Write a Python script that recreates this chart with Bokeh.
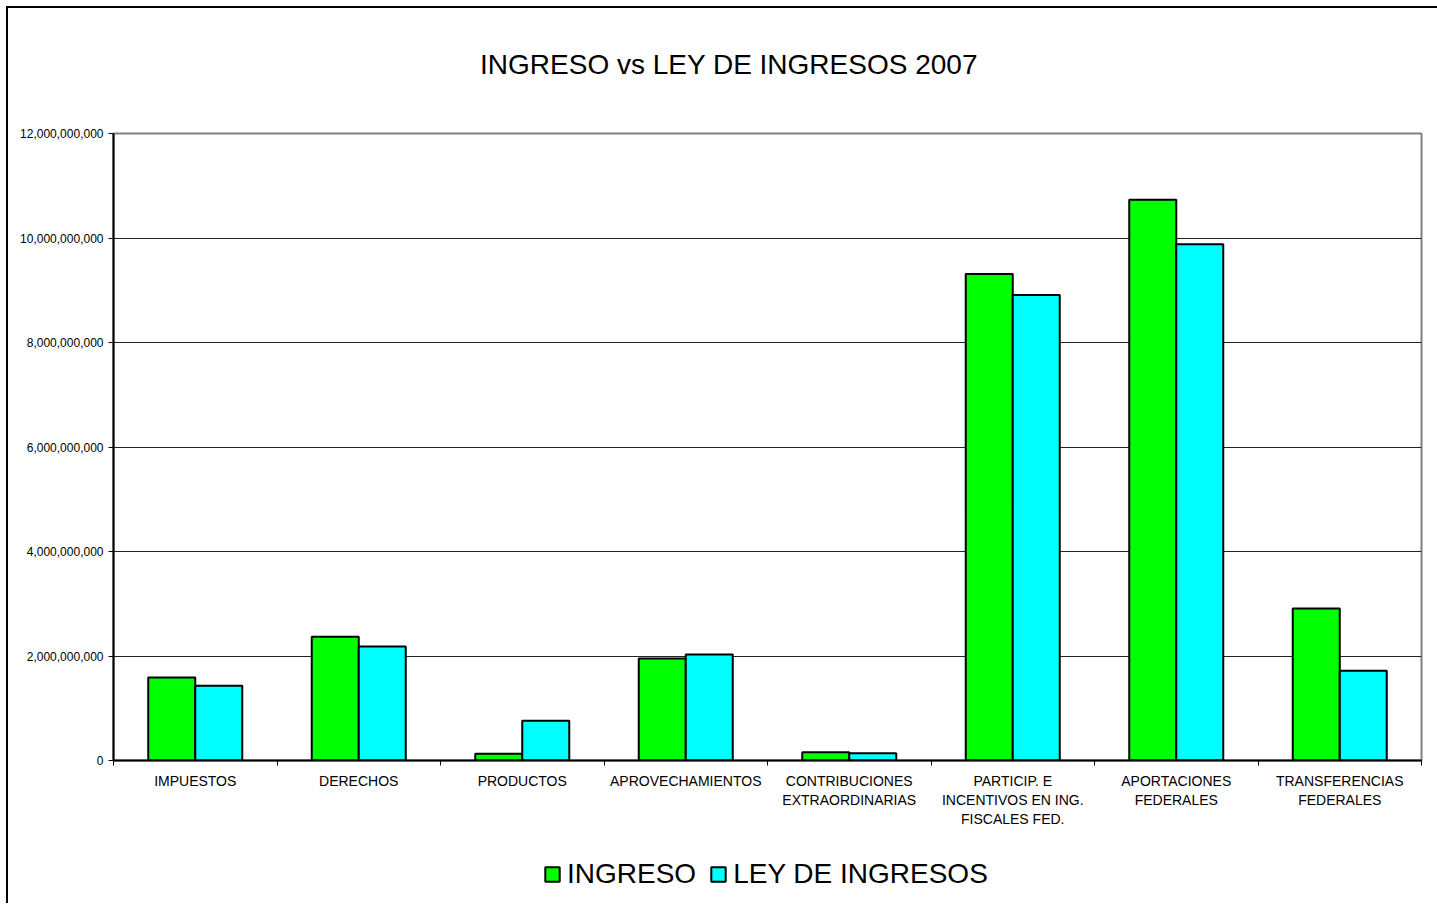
from bokeh.plotting import figure
from bokeh.layouts import column
from bokeh.models import (Range1d, FixedTicker, NumeralTickFormatter,
                          Legend, LegendItem, Label, ColumnDataSource)
from bokeh.embed import file_html
from bokeh.resources import INLINE

categories = ["IMPUESTOS", "DERECHOS", "PRODUCTOS", "APROVECHAMIENTOS",
              "CONTRIBUCIONES\nEXTRAORDINARIAS",
              "PARTICIP. E\nINCENTIVOS EN ING.\nFISCALES FED.",
              "APORTACIONES\nFEDERALES", "TRANSFERENCIAS\nFEDERALES"]
ingreso = [1.59e9, 2.37e9, 0.13e9, 1.95e9, 0.16e9, 9.31e9, 10.73e9, 2.91e9]
ley_ingresos = [1.43e9, 2.18e9, 0.76e9, 2.03e9, 0.14e9, 8.91e9, 9.88e9, 1.72e9]
series_names = ["INGRESO", "LEY DE INGRESOS"]
y_ticks = [0, 2e9, 4e9, 6e9, 8e9, 10e9, 12e9]
title_text = "INGRESO vs LEY DE INGRESOS 2007"

FONT = "Liberation Sans"
GREEN, CYAN = "#00FF00", "#00FFFF"
n = len(categories)
bw = 0.2875
centers = [i + 0.5 for i in range(n)]
bounds = list(range(n + 1))

W = 1429
H_T, H_M, H_L = 92, 745, 58
ML = 105  # frames of the stacked figures are aligned to this left edge


def bare(h):
    f = figure(width=W, height=h, output_backend="svg", toolbar_location=None,
               x_range=Range1d(0, 1), y_range=Range1d(0, 1),
               x_axis_location=None, y_axis_location=None,
               min_border=0, outline_line_color=None)
    f.xgrid.grid_line_color = None
    f.ygrid.grid_line_color = None
    f.background_fill_color = "white"
    f.border_fill_color = "white"
    return f


# ---- title ----
pt = bare(H_T)
pt.add_layout(Label(x=720.5 - ML, y=36, x_units="screen", y_units="screen",
                    text=title_text, text_align="center",
                    text_baseline="alphabetic", text_font=FONT,
                    text_font_size="28px", text_color="black"))

# ---- main chart ----
p = figure(width=W, height=H_M, output_backend="svg", toolbar_location=None,
           x_range=Range1d(0, n), y_range=Range1d(0, 12e9),
           min_border_left=ML, min_border_right=16, min_border_top=33,
           min_border_bottom=85)
p.background_fill_color = "white"
p.border_fill_color = "white"
p.outline_line_color = "#808080"
p.outline_line_width = 2

src = ColumnDataSource(dict(xg=[c - bw / 2 for c in centers],
                            xc=[c + bw / 2 for c in centers],
                            ing=ingreso, ley=ley_ingresos))
p.vbar(x="xg", top="ing", width=bw, source=src, fill_color=GREEN,
       line_color="black", line_width=2)
p.vbar(x="xc", top="ley", width=bw, source=src, fill_color=CYAN,
       line_color="black", line_width=2)

p.yaxis.ticker = FixedTicker(ticks=y_ticks)
p.yaxis.formatter = NumeralTickFormatter(format="0,0")
p.yaxis.major_label_text_font = FONT
p.yaxis.major_label_text_font_size = "12px"
p.yaxis.major_label_text_color = "black"
p.yaxis.axis_line_color = "black"
p.yaxis.axis_line_width = 2
p.yaxis.major_tick_in = 0
p.yaxis.major_tick_out = 5
p.yaxis.minor_tick_line_color = None
p.yaxis.major_label_standoff = 5

p.xgrid.grid_line_color = None
p.ygrid.ticker = FixedTicker(ticks=y_ticks)
p.ygrid.grid_line_color = "#222222"
p.ygrid.grid_line_width = 1

p.xaxis.ticker = FixedTicker(ticks=centers, minor_ticks=bounds)
p.xaxis.major_label_overrides = {c: t for c, t in zip(centers, categories)}
p.xaxis.major_label_text_font = FONT
p.xaxis.major_label_text_font_size = "14px"
p.xaxis.major_label_text_color = "black"
p.xaxis.major_label_standoff = 7
p.xaxis.axis_line_color = "black"
p.xaxis.axis_line_width = 2
p.xaxis.major_tick_line_color = None
p.xaxis.major_tick_in = 0
p.xaxis.major_tick_out = 0
p.xaxis.minor_tick_line_color = "black"
p.xaxis.minor_tick_line_width = 1
p.xaxis.minor_tick_in = 0
p.xaxis.minor_tick_out = 5

# ---- legend ----
pl = bare(H_L)
# swatch-only renderers: hidden, only their legend glyphs are shown
l1 = pl.vbar(x=[-5], bottom=[5], top=[6], width=1, fill_color=GREEN,
             line_color="black", line_width=2, visible=False)
l2 = pl.vbar(x=[-5], bottom=[5], top=[6], width=1, fill_color=CYAN,
             line_color="black", line_width=2, visible=False)
legend = Legend(items=[LegendItem(label=series_names[0], renderers=[l1]),
                       LegendItem(label=series_names[1], renderers=[l2])],
                orientation="horizontal", location=(535 - ML, 13),
                label_text_font=FONT, label_text_font_size="28px",
                label_text_color="black",
                glyph_width=18, glyph_height=18, label_standoff=6, spacing=13,
                border_line_color=None, background_fill_alpha=0,
                inactive_fill_alpha=0,
                padding=0, margin=0)
pl.add_layout(legend, "center")

layout = column(pt, p, pl, spacing=0,
                styles={"margin-left": "6px", "margin-top": "6px",
                        "border-left": "2px solid black",
                        "border-top": "2px solid black"})

open("out.html", "w").write(file_html(layout, INLINE))
